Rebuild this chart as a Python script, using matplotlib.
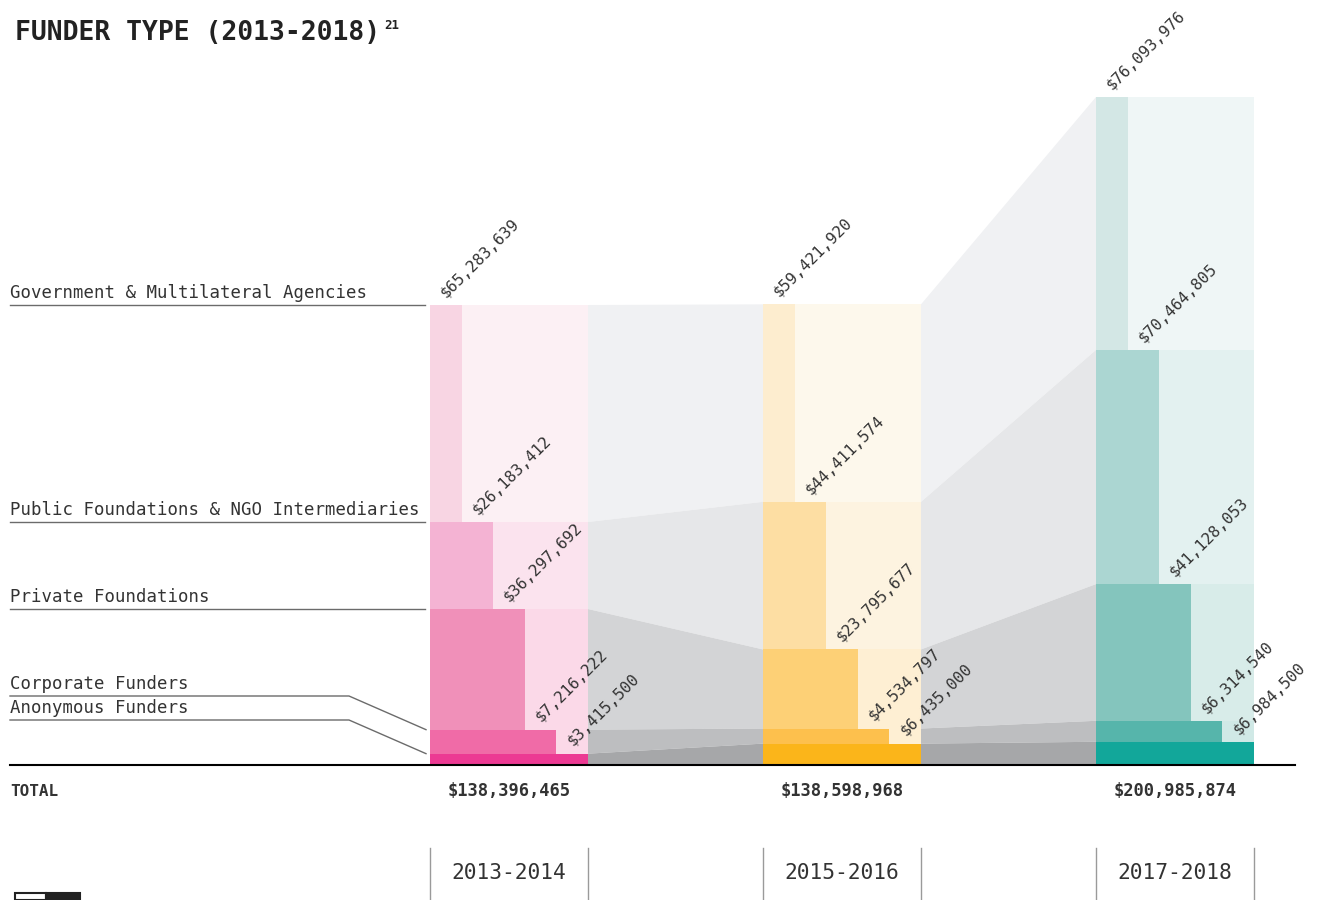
import matplotlib
matplotlib.use("Agg")
import matplotlib.pyplot as plt
from matplotlib.patches import Rectangle

# ---------------- data ----------------
periods = ["2013-2014", "2015-2016", "2017-2018"]
categories = ["Government & Multilateral Agencies",
              "Public Foundations & NGO Intermediaries",
              "Private Foundations",
              "Corporate Funders",
              "Anonymous Funders"]          # top -> bottom
gov = [65283639, 59421920, 76093976]
public = [26183412, 44411574, 70464805]
private = [36297692, 23795677, 41128053]
corporate = [7216222, 4534797, 6314540]
anonymous = [3415500, 6435000, 6984500]
values = [gov, public, private, corporate, anonymous]

# ---------------- styling ----------------
dark_cols = [
    ["#f8d5e3", "#f4b3d3", "#f090b9", "#f06ba7", "#ec3a93"],
    ["#fdedcf", "#fddea3", "#fdd076", "#fdc04d", "#fbb51a"],
    ["#d3e7e5", "#abd6d2", "#84c5bd", "#56b5ab", "#12a79a"],
]
light_cols = [
    ["#fcf0f4", "#fbe3ee", "#fbd9e8", "#fbd9e8", "#ec3a93"],
    ["#fdf8ec", "#fdf3e0", "#feefd3", "#feefd3", "#fbb51a"],
    ["#eff6f6", "#e3f1f0", "#d8ece9", "#d0e9e6", "#12a79a"],
]
band_cols = ["#f0f1f3", "#e6e7e9", "#d3d4d6", "#bdbec0", "#a6a7a9"]
txt = "#333333"
mono = "DejaVu Sans Mono"

W_PX, H_PX = 1325, 900
base_px = 765.0
scale = 460.0 / sum(v[0] for v in values)   # px per dollar
lefts = [430, 763, 1096]
width = 158

fig = plt.figure(figsize=(W_PX / 100, H_PX / 100), dpi=100)
ax = fig.add_axes([0, 0, 1, 1])
ax.set_xlim(0, W_PX)
ax.set_ylim(-(H_PX - base_px) / scale, base_px / scale)
ax.axis("off")


def Y(p):
    """pixel row -> data y"""
    return (base_px - p) / scale


def px(d):
    return d / scale


n = len(categories)
# cumulative bottoms (stack from bottom: anonymous first)
bottoms = [[0] * 3 for _ in range(n)]
for j in range(3):
    acc = 0
    for k in range(n - 1, -1, -1):
        bottoms[k][j] = acc
        acc += values[k][j]
tops = [[bottoms[k][j] + values[k][j] for j in range(3)] for k in range(n)]

# flow bands
for i in range(2):
    x0 = lefts[i] + width
    x1 = lefts[i + 1]
    for k in range(n):
        ax.fill([x0, x1, x1, x0],
                [bottoms[k][i], bottoms[k][i + 1], tops[k][i + 1], tops[k][i]],
                color=band_cols[k], lw=0, zorder=1)

# columns
for j in range(3):
    for k in range(n):
        ax.bar(lefts[j], values[k][j], width=width, bottom=bottoms[k][j],
               align="edge", color=light_cols[j][k], lw=0, zorder=2)
        ax.bar(lefts[j], values[k][j], width=width * (k + 1) / n,
               bottom=bottoms[k][j], align="edge", color=dark_cols[j][k],
               lw=0, zorder=3)
        ax.text(lefts[j] + width * k / n + 16, tops[k][j] + px(7),
                f"${values[k][j]:,}", rotation=45, rotation_mode="anchor",
                ha="left", va="baseline", fontsize=11.3, family=mono,
                color=txt, zorder=5)

# category labels with leader lines
for k in range(n):
    ty = tops[k][0]
    if k < 3:
        ax.plot([10, 425], [ty, ty], color="#6b6b6b", lw=1, zorder=4)
        ax.text(10, ty + px(7), categories[k], fontsize=12.5, family=mono,
                color=txt, ha="left", va="baseline")
    else:
        ly = Y(696) if k == 3 else Y(720)
        ax.plot([10, 349, 426], [ly, ly, ty], color="#6b6b6b", lw=1, zorder=4)
        ax.text(10, ly + px(7), categories[k], fontsize=12.5, family=mono,
                color=txt, ha="left", va="baseline")

# baseline
ax.plot([10, 1295], [0, 0], color="black", lw=1.5, zorder=6)

# totals
ax.text(10, Y(791), "TOTAL", fontsize=11.5, family=mono, weight="bold",
        color=txt, ha="left", va="center")
for j in range(3):
    total = sum(values[k][j] for k in range(n))
    ax.text(lefts[j] + width / 2, Y(791), f"${total:,}", fontsize=12.3,
            family=mono, weight="bold", color=txt, ha="center", va="center")
    ax.text(lefts[j] + width / 2, Y(873), periods[j], fontsize=15.3,
            family=mono, color=txt, ha="center", va="center")
    for xe in (lefts[j], lefts[j] + width):
        ax.plot([xe, xe], [Y(848), Y(900)], color="#9a9a9a", lw=1)

# title
ax.text(15, Y(40), "FUNDER TYPE (2013-2018)", fontsize=19, family=mono,
        weight="bold", color="#222222", ha="left", va="baseline")
ax.text(384, Y(29), "21", fontsize=9, family=mono, weight="bold",
        color="#222222", ha="left", va="baseline")

# small logo fragment at bottom-left
ax.add_patch(Rectangle((15, Y(900)), 31, px(7), facecolor="white",
                       edgecolor="#222222", lw=1.5, zorder=6))
ax.add_patch(Rectangle((46, Y(900)), 34, px(7), facecolor="#222222",
                       edgecolor="#222222", lw=1.5, zorder=6))

fig.savefig("out.png", dpi=100)
